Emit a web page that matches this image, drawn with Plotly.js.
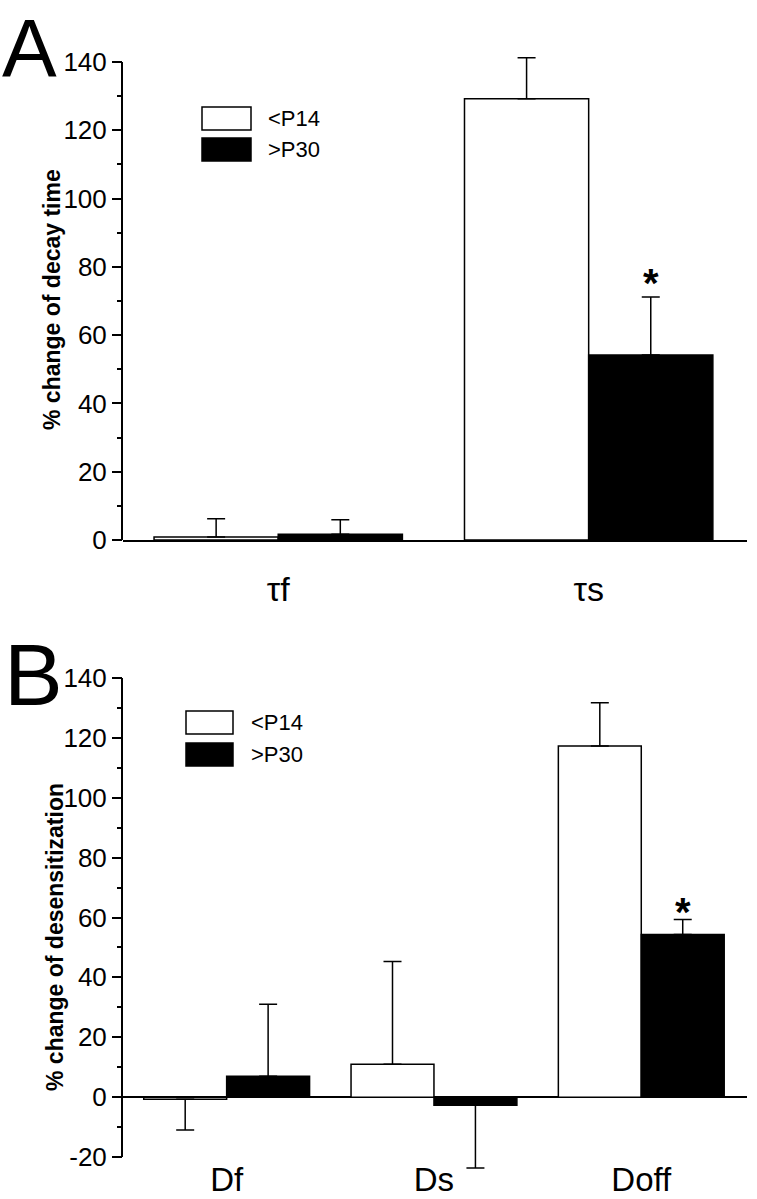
<!DOCTYPE html>
<html>
<head>
<meta charset="utf-8">
<script src="https://cdn.plot.ly/plotly-3.0.1.min.js"></script>
<style>
	html, body { margin: 0; padding: 0; background: #fff; }
	#graph { width: 757px; height: 1199px; }
</style>
</head>
<body>
<div id="graph"></div>
<script>
const W = 757;
const H = 1199;

// panel A: decay time
const catsA = ['τf', 'τs'];
const youngA = [0.9, 129.2];
const youngErrA = [5.3, 12.0];
const adultA = [1.7, 54.2];
const adultErrA = [4.2, 17.0];
const sigA = [false, true];

// panel B: desensitization
const catsB = ['Df', 'Ds', 'Doff'];
const youngB = [-0.7, 11.0, 117.3];
const youngErrB = [10.3, 34.3, 14.4];
const adultB = [7.0, -2.7, 54.3];
const adultErrB = [24.0, 21.0, 5.0];
const sigB = [false, false, true];

const ticksA = [0, 20, 40, 60, 80, 100, 120, 140];
const ticksB = [-20, 0, 20, 40, 60, 80, 100, 120, 140];
const tickTextB = ['-20', '0', '20', '40', '60', '80', '100', '120', '140'];

const seriesNames = ['<P14', '>P30'];

const font = 'Liberation Sans, Arial, Helvetica, sans-serif';

function px(x) { return x / W; }
function py(y) { return 1 - y / H; }

// one-sided error bars, pointing away from zero
function errBar(vals, errs) {
	return {
		type: 'data',
		symmetric: false,
		array: vals.map((v, i) => v >= 0 ? errs[i] : 0),
		arrayminus: vals.map((v, i) => v < 0 ? errs[i] : 0),
		color: 'black',
		thickness: 1.5,
		width: 9
	};
}

function barTrace(cats, vals, errs, fill, xa, ya) {
	return {
		type: 'bar',
		x: cats,
		y: vals,
		xaxis: xa,
		yaxis: ya,
		marker: {color: fill, line: {color: 'black', width: 1.5}},
		error_y: errBar(vals, errs),
		showlegend: false,
		hoverinfo: 'skip'
	};
}

const traces = [
	barTrace(catsA, youngA, youngErrA, 'white', 'x', 'y'),
	barTrace(catsA, adultA, adultErrA, 'black', 'x', 'y'),
	barTrace(catsB, youngB, youngErrB, 'white', 'x2', 'y2'),
	barTrace(catsB, adultB, adultErrB, 'black', 'x2', 'y2')
];

const annotations = [];
const shapes = [];

function stars(sig, vals, errs, xref, yref, shift) {
	sig.forEach((s, i) => {
		if (!s) return;
		annotations.push({
			xref: xref, yref: yref,
			x: i + 0.2, y: vals[i] + errs[i],
			text: '<b>*</b>', showarrow: false,
			xanchor: 'center', yanchor: 'middle', yshift: shift,
			font: {family: font, size: 40, color: 'black'}
		});
	});
}
stars(sigA, adultA, adultErrA, 'x', 'y', 14);
stars(sigB, adultB, adultErrB, 'x2', 'y2', 8);

// y axis lines stop at the end ticks; the range itself is a bit longer so
// error bars that pass the last tick are not clipped
function yLine(yref, ticks) {
	shapes.push({
		type: 'line', xref: 'paper', yref: yref,
		x0: px(122), x1: px(122),
		y0: ticks[0], y1: ticks[ticks.length - 1],
		line: {color: 'black', width: 2}
	});
}
yLine('y', ticksA);
yLine('y2', ticksB);

// hand-drawn legends, one per panel
function legendBox(x0, y0, w, h, textX, gap) {
	seriesNames.forEach((name, i) => {
		const top = y0 + i * gap;
		shapes.push({
			type: 'rect', xref: 'paper', yref: 'paper',
			x0: px(x0), x1: px(x0 + w), y0: py(top + h), y1: py(top),
			fillcolor: i === 0 ? 'white' : 'black',
			line: {color: 'black', width: 1.5}
		});
		annotations.push({
			xref: 'paper', yref: 'paper',
			x: px(textX), y: py(top + h / 2),
			text: name.replace('<', '&lt;').replace('>', '&gt;'),
			showarrow: false, xanchor: 'left', yanchor: 'middle',
			font: {family: font, size: 22, color: 'black'}
		});
	});
}
legendBox(202, 107, 49, 23, 266, 31);
legendBox(186, 711, 47, 23, 249, 32);

// panel letters and y titles
annotations.push(
	{xref: 'paper', yref: 'paper', x: 0, y: 1, text: 'A', showarrow: false,
		xanchor: 'left', yanchor: 'top', font: {family: font, size: 82, color: 'black'}},
	{xref: 'paper', yref: 'paper', x: px(2), y: py(674), text: 'B', showarrow: false,
		xanchor: 'left', yanchor: 'middle', font: {family: font, size: 88, color: 'black'}},
	{xref: 'paper', yref: 'paper', x: px(52), y: py(300), text: '<b>% change of decay time</b>',
		showarrow: false, textangle: -90, xanchor: 'center', yanchor: 'middle',
		font: {family: font, size: 23, color: 'black'}},
	{xref: 'paper', yref: 'paper', x: px(55), y: py(937), text: '<b>% change of desensitization</b>',
		showarrow: false, textangle: -90, xanchor: 'center', yanchor: 'middle',
		font: {family: font, size: 23, color: 'black'}}
);

const yCommon = {
	showgrid: false,
	showline: false,
	ticks: 'outside',
	ticklen: 10,
	tickwidth: 2,
	tickcolor: 'black',
	tickfont: {family: font, size: 26, color: 'black'},
	minor: {ticks: 'outside', tickmode: 'linear', tick0: 0, dtick: 10, ticklen: 5, tickwidth: 2, tickcolor: 'black', showgrid: false},
	automargin: false,
	fixedrange: true
};

const layout = {
	width: W,
	height: H,
	margin: {l: 0, r: 0, t: 0, b: 0},
	paper_bgcolor: 'white',
	plot_bgcolor: 'white',
	barmode: 'group',
	bargap: 0.2,
	bargroupgap: 0,
	font: {family: font, color: 'black'},
	showlegend: false,
	xaxis: {
		domain: [px(123), px(747)],
		type: 'category',
		range: [-0.5, 1.51],
		anchor: 'y',
		showline: true, linecolor: 'black', linewidth: 2,
		ticks: '', showgrid: false, zeroline: false,
		tickfont: {family: font, size: 34, color: 'black'},
		ticklabelstandoff: 18,
		automargin: false, fixedrange: true
	},
	yaxis: Object.assign({}, yCommon, {
		domain: [py(540), py(50)],
		range: [0, 143.5],
		tickvals: ticksA,
		zeroline: false,
		anchor: 'x'
	}),
	xaxis2: {
		domain: [px(123), px(747)],
		type: 'category',
		range: [-0.5, 2.51],
		anchor: 'free',
		position: py(1157),
		showline: false,
		ticks: '', showgrid: false, zeroline: false,
		tickfont: {family: font, size: 33, color: 'black'},
		ticklabelstandoff: 0,
		automargin: false, fixedrange: true
	},
	yaxis2: Object.assign({}, yCommon, {
		domain: [py(1172), py(678)],
		range: [-25, 140],
		tickvals: ticksB,
		ticktext: tickTextB,
		zeroline: true, zerolinecolor: 'black', zerolinewidth: 2,
		anchor: 'x2'
	}),
	annotations: annotations,
	shapes: shapes
};

Plotly.newPlot('graph', traces, layout, {displayModeBar: false, staticPlot: true});
</script>
</body>
</html>
